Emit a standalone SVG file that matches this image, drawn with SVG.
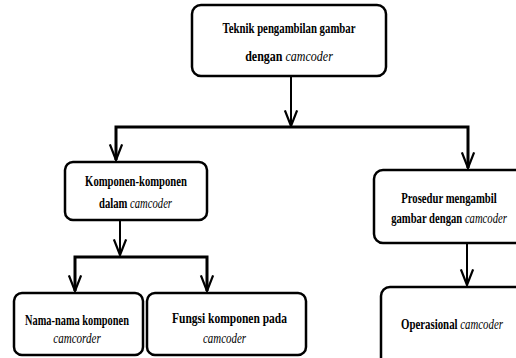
<svg xmlns="http://www.w3.org/2000/svg" width="516" height="358" viewBox="0 0 516 358">
<style>
.box{fill:#fff;stroke:#000;stroke-width:2.5}
.t{font-family:"Liberation Serif","Times New Roman",serif;font-weight:bold;font-size:15px;fill:#000;text-anchor:middle}
.i{font-style:italic;font-weight:normal}
.c{fill:none;stroke:#000;stroke-width:2}
.h{fill:none;stroke:#000;stroke-width:3}
</style>
<defs>
<marker id="arr" markerUnits="userSpaceOnUse" markerWidth="20" markerHeight="20" viewBox="-16 -8 18 16" refX="0" refY="0" orient="auto">
<path d="M-14,-5.5 L0,0 L-14,5.5" fill="none" stroke="#000" stroke-width="2"/>
</marker>
</defs>
<rect width="516" height="358" fill="#fff"/>
<g id="connectors">
<line class="c" x1="291" y1="76" x2="291" y2="126" marker-end="url(#arr)"/>
<polyline class="h" points="116,160 116,127 468,127 468,168"/>
<line class="c" x1="116" y1="128" x2="116" y2="160" marker-end="url(#arr)"/>
<line class="c" x1="468" y1="128" x2="468" y2="168" marker-end="url(#arr)"/>
<line class="c" x1="120" y1="220" x2="120" y2="255" marker-end="url(#arr)"/>
<polyline class="h" points="75,291 75,257 207,257 207,291"/>
<line class="c" x1="75" y1="258" x2="75" y2="291" marker-end="url(#arr)"/>
<line class="c" x1="207" y1="258" x2="207" y2="291" marker-end="url(#arr)"/>
<line class="c" x1="467" y1="243" x2="467" y2="285" marker-end="url(#arr)"/>
</g>
<g id="n1">
<rect class="box" x="192" y="5" width="194" height="71" rx="9"/>
<text class="t" transform="translate(289,33) scale(0.718,1)">Teknik pengambilan gambar</text>
<text class="t" transform="translate(289,61) scale(0.8,1)">dengan <tspan class="i">camcoder</tspan></text>
</g>
<g id="n2">
<rect class="box" x="65" y="162" width="142" height="58" rx="8"/>
<text class="t" transform="translate(136,186) scale(0.711,1)">Komponen-komponen</text>
<text class="t" transform="translate(135.5,208) scale(0.71,1)">dalam <tspan class="i">camcoder</tspan></text>
</g>
<g id="n3">
<rect class="box" x="374" y="170" width="150" height="73" rx="9"/>
<text class="t" transform="translate(449,203) scale(0.713,1)">Prosedur mengambil</text>
<text class="t" transform="translate(449,223) scale(0.71,1)">gambar dengan <tspan class="i">camcoder</tspan></text>
</g>
<g id="n4">
<rect class="box" x="381" y="287" width="145" height="80" rx="9"/>
<text class="t" transform="translate(452,329) scale(0.722,1)">Operasional <tspan class="i">camcoder</tspan></text>
</g>
<g id="n5">
<rect class="box" x="14" y="293" width="129" height="62" rx="8"/>
<text class="t" transform="translate(77,325) scale(0.691,1)">Nama-nama komponen</text>
<text class="t i" transform="translate(77,343) scale(0.738,1)">camcorder</text>
</g>
<g id="n6">
<rect class="box" x="147" y="293" width="159" height="62" rx="8"/>
<text class="t" transform="translate(229.5,323) scale(0.767,1)">Fungsi komponen pada</text>
<text class="t i" transform="translate(224.5,343) scale(0.727,1)">camcoder</text>
</g>
</svg>
